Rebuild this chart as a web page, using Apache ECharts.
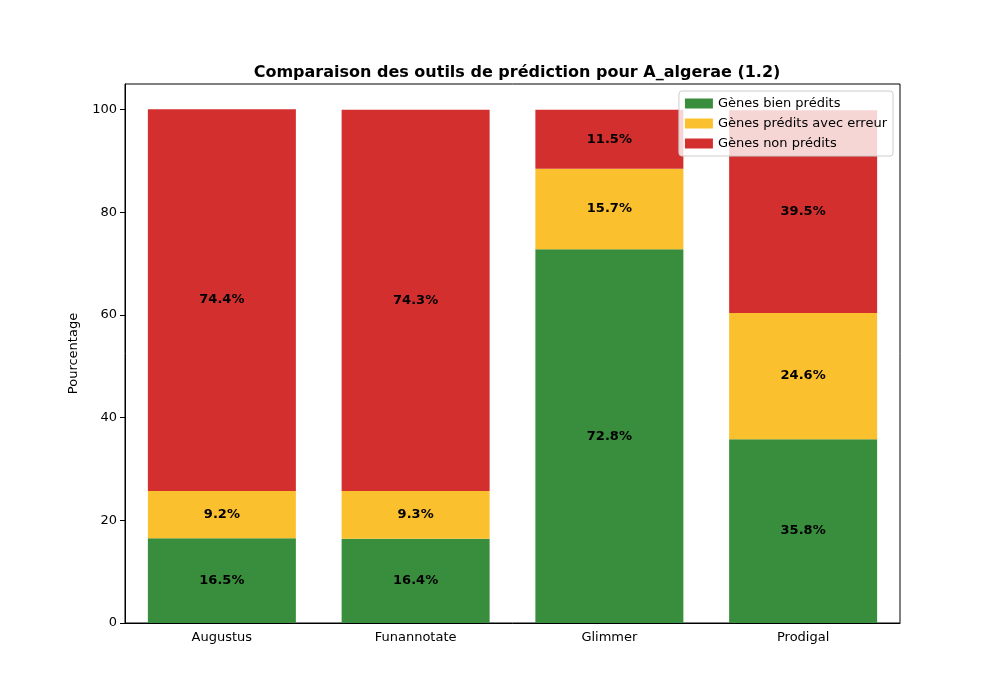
<!DOCTYPE html>
<html>
<head>
<meta charset="UTF-8">
<title>Comparaison</title>
<script src="https://cdn.jsdelivr.net/npm/echarts@6/dist/echarts.min.js"></script>
<style>body{margin:0}#chart{width:1000px;height:700px}</style>
</head>
<body>
<div id="chart"></div>
<script>
var tools = ['Augustus', 'Funannotate', 'Glimmer', 'Prodigal'];
var bienPredits = [16.5, 16.4, 72.8, 35.8];
var avecErreur = [9.2, 9.3, 15.7, 24.6];
var nonPredits = [74.4, 74.3, 11.5, 39.5];
var seriesNames = ['Gènes bien prédits', 'Gènes prédits avec erreur', 'Gènes non prédits'];
var colors = ['#388e3c', '#fbc02d', '#d32f2f'];

var chart = echarts.init(document.getElementById('chart'));

function bar(name, data, color) {
    return {
        name: name,
        type: 'bar',
        stack: 'total',
        barWidth: 148,
        data: data,
        itemStyle: { color: color },
        label: {
            show: true,
            position: 'inside',
            color: '#000',
            fontWeight: 'bold',
            fontSize: 13,
            fontFamily: 'DejaVu Sans',
            formatter: function (p) { return p.value.toFixed(1) + '%'; }
        }
    };
}

var option = {
    animation: false,
    textStyle: { fontFamily: 'DejaVu Sans' },
    title: {
        text: 'Comparaison des outils de prédiction pour A_algerae (1.2)',
        left: 512, top: 60, textAlign: 'center',
        textStyle: { fontSize: 16, fontWeight: 'bold', color: '#000', fontFamily: 'DejaVu Sans' }
    },
    legend: {
        data: seriesNames,
        orient: 'vertical',
        right: 107, top: 91,
        itemWidth: 28, itemHeight: 10, itemGap: 7,
        icon: 'rect',
        padding: [6, 6, 6, 6],
        backgroundColor: 'rgba(255,255,255,0.8)',
        borderColor: '#ccc', borderWidth: 1, borderRadius: 3,
        textStyle: { fontSize: 13, color: '#000' }
    },
    grid: { left: 125, right: 100, top: 84, bottom: 77, show: true, borderColor: '#000', borderWidth: 1, backgroundColor: 'transparent' },
    xAxis: {
        type: 'category',
        data: tools,
        axisLine: { lineStyle: { color: '#000' } },
        axisTick: { alignWithLabel: true, lineStyle: { color: '#000' } },
        axisLabel: { color: '#000', fontSize: 13, margin: 8 }
    },
    yAxis: {
        type: 'value',
        min: 0, max: 105, interval: 20,
        name: 'Pourcentage', nameLocation: 'middle', nameGap: 45,
        nameTextStyle: { color: '#000', fontSize: 13 },
        axisLine: { show: true, lineStyle: { color: '#000' } },
        axisTick: { show: true, lineStyle: { color: '#000' } },
        axisLabel: { color: '#000', fontSize: 13, showMaxLabel: false },
        splitLine: { show: false }
    },
    series: [
        bar(seriesNames[0], bienPredits, colors[0]),
        bar(seriesNames[1], avecErreur, colors[1]),
        bar(seriesNames[2], nonPredits, colors[2])
    ]
};
chart.setOption(option);
</script>
</body>
</html>
